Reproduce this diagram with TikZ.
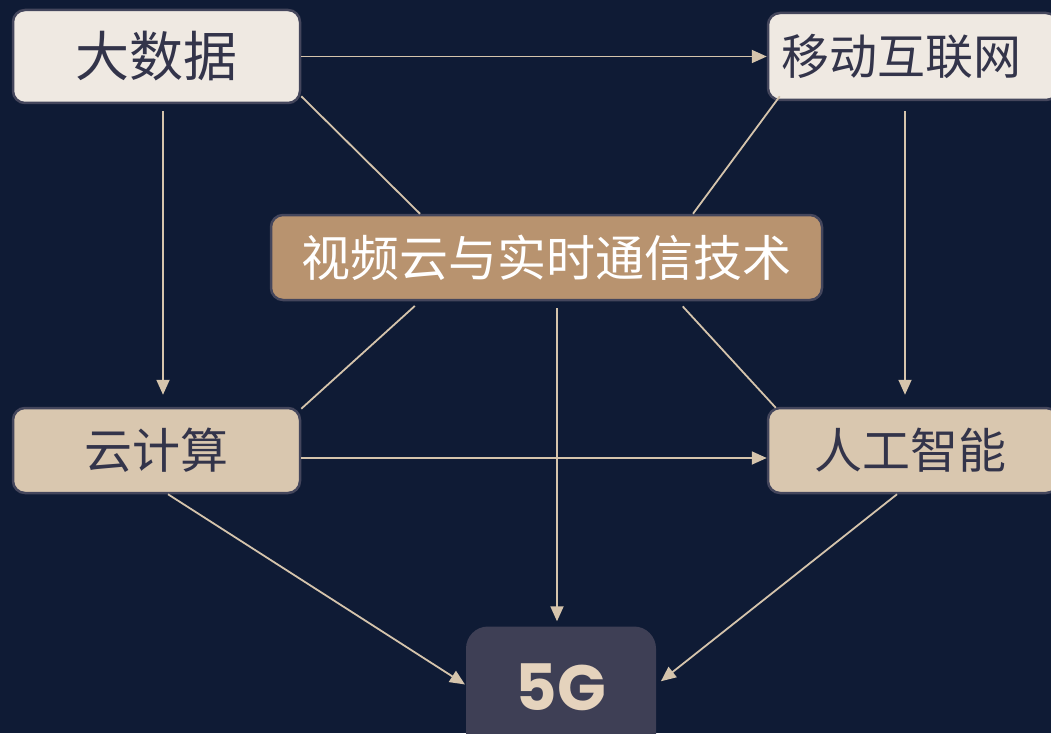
\documentclass[tikz,border=0pt]{standalone}
\usepackage{fontspec}
\newfontfamily\cjk{Noto Sans CJK SC}
\newfontfamily\pop{Poppins}
\usetikzlibrary{arrows.meta,calc}
\definecolor{bgc}{HTML}{0F1B35}
\definecolor{lightbox}{HTML}{EFE9E2}
\definecolor{tanbox}{HTML}{D9C7AF}
\definecolor{brownbox}{HTML}{B8936F}
\definecolor{darkbox}{HTML}{3E3F55}
\definecolor{edgec}{HTML}{44465C}
\definecolor{txtc}{HTML}{33344A}
\definecolor{linec}{HTML}{D5C4AC}
\definecolor{fivec}{HTML}{E5D3BD}
\tikzset{
  box/.style={draw=edgec, line width=2.5pt, rounded corners=12pt, inner sep=0pt, text=txtc},
  conn/.style={draw=linec, line width=1.8pt},
  arr/.style={conn, -{Triangle[length=15pt,width=13pt]}},
}
\begin{document}
\begin{tikzpicture}[x=1pt,y=-1pt]
\fill[bgc] (0,0) rectangle (1051,733);
\useasboundingbox (0,0) rectangle (1051,733);
% nodes
\node[box, fill=lightbox, minimum width=287pt, minimum height=93pt, font=\cjk\fontsize{54}{60}\selectfont] (dsj) at (156.5,56.5) {大数据};
\node[box, fill=lightbox, minimum width=290pt, minimum height=87pt, font=\cjk\fontsize{48}{54}\selectfont] (ydhl) at (913,56.5) {移动互联网\kern24pt};
\node[box, fill=brownbox, text=white, minimum width=551pt, minimum height=85pt, font=\cjk\fontsize{49}{54}\selectfont] (sp) at (546.5,257.5) {视频云与实时通信技术};
\node[box, fill=tanbox, minimum width=287pt, minimum height=85pt, font=\cjk\fontsize{48}{54}\selectfont] (yjs) at (156.5,450.5) {云计算};
\node[box, fill=tanbox, minimum width=290pt, minimum height=85pt, font=\cjk\fontsize{48}{54}\selectfont] (rgzn) at (913,450.5) {人工智能\kern6pt};
\node[draw=none, fill=darkbox, rounded corners=22pt, minimum width=190pt, minimum height=133pt, inner sep=0pt, text=fivec, font=\pop\bfseries\fontsize{64}{70}\selectfont] (g5) at (561,693) {\raisebox{12pt}{5G}};
% connectors
\draw[arr] (dsj.east) -- (ydhl.west);
\draw[arr, shorten <=7pt, shorten >=12pt] ([xshift=6.5pt]dsj.south) -- ([xshift=6.5pt]yjs.north);
\draw[arr, shorten <=10pt, shorten >=12pt] ([xshift=-8pt]ydhl.south) -- ([xshift=-8pt]rgzn.north);
\draw[arr] ([yshift=-7.5pt]yjs.east) -- ([yshift=-7.5pt]rgzn.west);
\draw[conn] ([yshift=8pt]dsj.south east) -- ([xshift=-126.5pt]sp.north);
\draw[conn] ([xshift=13pt,yshift=5pt]ydhl.south west) -- ([xshift=146.5pt]sp.north);
\draw[conn, shorten <=7pt] ([xshift=-126.5pt]sp.south) -- ([yshift=-2pt]yjs.north east);
\draw[conn, shorten <=7pt] ([xshift=131.5pt]sp.south) -- ([xshift=9pt,yshift=-1pt]rgzn.north west);
\draw[arr, shorten <=7pt, shorten >=5pt] ([xshift=10.5pt]sp.south) -- ([xshift=10.5pt]sp.south |- g5.north);
\draw[arr, shorten >=1pt] ([xshift=11.5pt]yjs.south) -- ([yshift=8pt]g5.west);
\draw[arr, shorten >=6pt] ([xshift=-16pt]rgzn.south) -- ([yshift=8pt]g5.east);
\end{tikzpicture}
\end{document}
